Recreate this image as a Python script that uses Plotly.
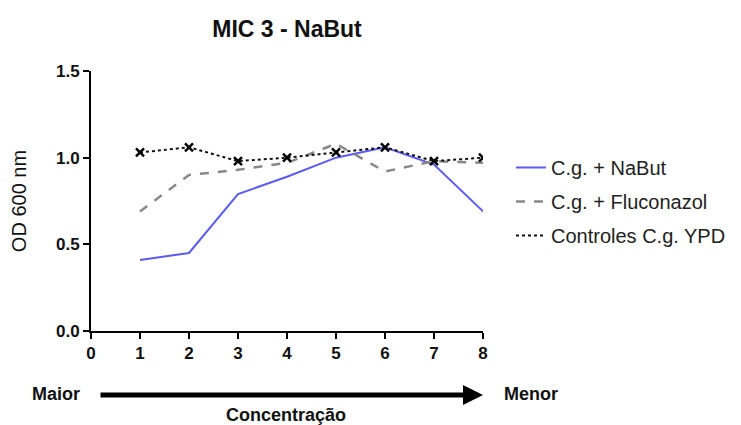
import plotly.graph_objects as go

x_vals = [1, 2, 3, 4, 5, 6, 7, 8]
nabut = [0.41, 0.45, 0.79, 0.89, 1.00, 1.06, 0.96, 0.69]
fluconazol = [0.69, 0.90, 0.93, 0.97, 1.08, 0.92, 0.98, 0.97]
ypd = [1.03, 1.06, 0.98, 1.00, 1.03, 1.06, 0.98, 1.00]
names = ["C.g. + NaBut", "C.g. + Fluconazol", "Controles C.g. YPD"]

FONT = "Liberation Sans, Arial, sans-serif"

fig = go.Figure()
fig.add_trace(go.Scatter(x=x_vals, y=nabut, mode="lines", name=names[0],
                         line=dict(color="#5a5cf5", width=2), legendgroup="a"))
fig.add_trace(go.Scatter(x=x_vals, y=fluconazol, mode="lines", name=names[1],
                         line=dict(color="#888888", width=2.5, dash="dash"), legendgroup="b"))
fig.add_trace(go.Scatter(x=x_vals, y=ypd, mode="lines", name=names[2],
                         line=dict(color="#111111", width=2, dash="dot"), legendgroup="c"))
fig.add_trace(go.Scatter(x=x_vals, y=ypd, mode="markers", showlegend=False,
                         marker=dict(symbol="x-thin", size=8, color="#000000",
                                     line=dict(width=2.5, color="#000000")),
                         legendgroup="c"))

axis_common = dict(showline=True, linecolor="black", linewidth=2, ticks="outside",
                   tickcolor="black", tickwidth=2, ticklen=6, showgrid=False, zeroline=False,
                   tickfont=dict(family=FONT, size=17, color="#111111", weight="bold"))

fig.update_layout(
    width=741, height=425,
    margin=dict(l=91, r=258, t=71, b=94, autoexpand=False),
    paper_bgcolor="white", plot_bgcolor="white",
    title=dict(text="<b>MIC 3 - NaBut</b>", x=287 / 741, xanchor="center", y=1 - 29 / 425,
               yanchor="middle", font=dict(family=FONT, size=23, color="#111111")),
    xaxis=dict(range=[0, 8], tickvals=list(range(0, 9)), **axis_common),
    yaxis=dict(range=[0, 1.5], tickvals=[0, 0.5, 1.0, 1.5], tickformat=".1f",
               title=dict(text="OD 600 nm", font=dict(family=FONT, size=20, color="#111111"),
                          standoff=24),
               **axis_common),
    legend=dict(x=(511 - 91) / 392, xanchor="left", y=(331 - 148) / 260, yanchor="top",
                tracegroupgap=5, itemwidth=30,
                font=dict(family=FONT, size=20, color="#222222"), bgcolor="rgba(0,0,0,0)"),
    showlegend=True,
)

# Arrow below the x axis
fig.add_annotation(x=1.0, y=(331 - 395) / 260, xref="x domain", yref="y domain",
                   ax=(99 - 91) / 392, ay=(331 - 395) / 260, axref="x domain", ayref="y domain",
                   showarrow=True, arrowhead=2, arrowsize=0.8, arrowwidth=5,
                   arrowcolor="black", text="")
fig.add_annotation(x=(56 - 91) / 392, y=(331 - 394) / 260, xref="paper", yref="paper",
                   xanchor="center", yanchor="middle",
                   text="<b>Maior</b>", showarrow=False,
                   font=dict(family=FONT, size=18, color="#111111"))
fig.add_annotation(x=(531 - 91) / 392, y=(331 - 394) / 260, xref="paper", yref="paper",
                   xanchor="center", yanchor="middle",
                   text="<b>Menor</b>", showarrow=False,
                   font=dict(family=FONT, size=18, color="#111111"))
fig.add_annotation(x=(286 - 91) / 392, y=(331 - 415) / 260, xref="paper", yref="paper",
                   xanchor="center", yanchor="middle",
                   text="<b>Concentração</b>", showarrow=False,
                   font=dict(family=FONT, size=18, color="#111111"))

fig.write_html("out.html")
